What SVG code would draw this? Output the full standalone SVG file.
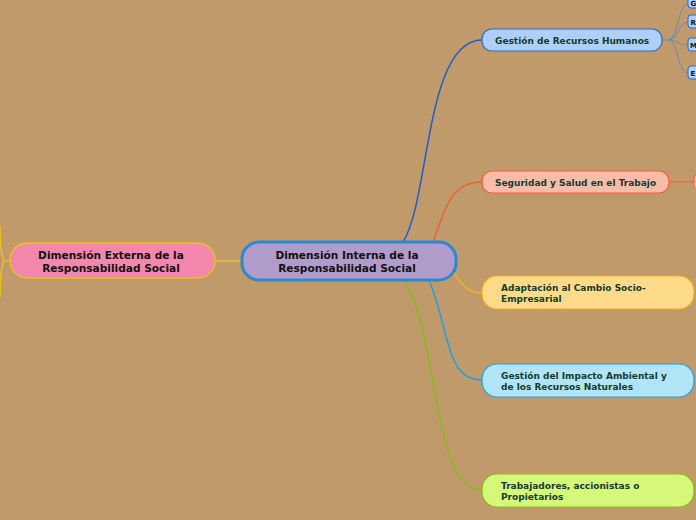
<svg xmlns="http://www.w3.org/2000/svg" width="696" height="520" viewBox="0 0 696 520">
<style>
text{font-family:"DejaVu Sans","Verdana",sans-serif;font-weight:bold}
.main{font-size:10.6px;fill:#111;text-anchor:middle}
.br{font-size:9px;fill:#123c2c}
.sub{font-size:7px;fill:#111}
.c{fill:none;stroke-width:1.5}
</style>
<rect width="696" height="520" fill="#C09A6B"/>
<g id="connectors">
<path class="c" d="M215,261 H242" stroke="#E8C020"/>
<path class="c" d="M10,261 H4 C1,255 0,240 0,226 M4,261 C1,267 0,282 0,297" stroke="#E8C020" stroke-width="1"/>
<path class="c" d="M403,242 C430,200 425,40 482,40" stroke="#1F5FC8"/>
<path class="c" d="M433,242 C445,210 450,182 482,182" stroke="#F06030"/>
<path class="c" d="M453,272 C462,285 468,293 482,293" stroke="#F0B020"/>
<path class="c" d="M429,280 C450,330 445,380 482,380" stroke="#20A0D8"/>
<path class="c" d="M403,280 C440,330 430,490 482,490" stroke="#88BC18"/>
<path d="M669,182 H696" stroke="#F06030" stroke-width="1" fill="none"/>
<g stroke="#6A88B8" stroke-width="1" fill="none">
<path d="M662,40 H668 C678,40 678,4 688,4"/>
<path d="M668,40 C678,40 678,22 688,22"/>
<path d="M668,40 C678,40 678,45 688,45"/>
<path d="M668,40 C678,40 678,73 688,73"/>
</g>
</g>
<g id="ext">
<rect x="10" y="243" width="205" height="35" rx="17" fill="#F487AC" stroke="#E8C020" stroke-width="1.5"/>
<text class="main" x="111" y="259">Dimensión Externa de la</text>
<text class="main" x="111" y="272">Responsabilidad Social</text>
</g>
<g id="central">
<rect x="242" y="242" width="214" height="38" rx="17" fill="#B19BCA" stroke="#2A8AD0" stroke-width="3"/>
<text class="main" x="347" y="259">Dimensión Interna de la</text>
<text class="main" x="347" y="272">Responsabilidad Social</text>
</g>
<g id="rrhh">
<rect x="482" y="29" width="180" height="22" rx="10" fill="#AED0F8" stroke="#2A6CC8" stroke-width="1.2"/>
<text class="br" x="495" y="44">Gestión de Recursos Humanos</text>
</g>
<g id="sub-g"><rect x="688" y="-3" width="14" height="11" rx="3" fill="#AED0F8" stroke="#2A6CC8"/><text class="sub" x="690.5" y="6">G</text></g>
<g id="sub-r"><rect x="688" y="15" width="14" height="13" rx="3" fill="#AED0F8" stroke="#2A6CC8"/><text class="sub" x="690.5" y="24.5">R</text></g>
<g id="sub-m"><rect x="688" y="38" width="14" height="13" rx="3" fill="#AED0F8" stroke="#2A6CC8"/><text class="sub" x="690" y="47.5">M</text></g>
<g id="sub-e"><rect x="688" y="66" width="14" height="13" rx="3" fill="#AED0F8" stroke="#2A6CC8"/><text class="sub" x="690.5" y="75.5">E</text></g>
<g id="seg">
<rect x="482" y="171" width="187" height="22" rx="10" fill="#F8BCA8" stroke="#F06030" stroke-width="1.2"/>
<text class="br" x="495" y="186">Seguridad y Salud en el Trabajo</text>
</g>
<g id="seg-sub"><rect x="694" y="175" width="10" height="14" rx="3" fill="#F8BCA8" stroke="#F06030"/></g>
<g id="adap">
<rect x="482" y="276" width="212" height="33" rx="15" fill="#FDDB8A" stroke="#F0B020" stroke-width="1.2"/>
<text class="br" x="501" y="291">Adaptación al Cambio Socio-</text>
<text class="br" x="501" y="302">Empresarial</text>
</g>
<g id="amb">
<rect x="482" y="364" width="212" height="33" rx="15" fill="#B2E4F8" stroke="#20A0D8" stroke-width="1.2"/>
<text class="br" x="501" y="379">Gestión del Impacto Ambiental y</text>
<text class="br" x="501" y="390">de los Recursos Naturales</text>
</g>
<g id="trab">
<rect x="482" y="474" width="212" height="33" rx="15" fill="#D6F87A" stroke="#88BC18" stroke-width="1.2"/>
<text class="br" x="501" y="489">Trabajadores, accionistas o</text>
<text class="br" x="501" y="500">Propietarios</text>
</g>
</svg>
